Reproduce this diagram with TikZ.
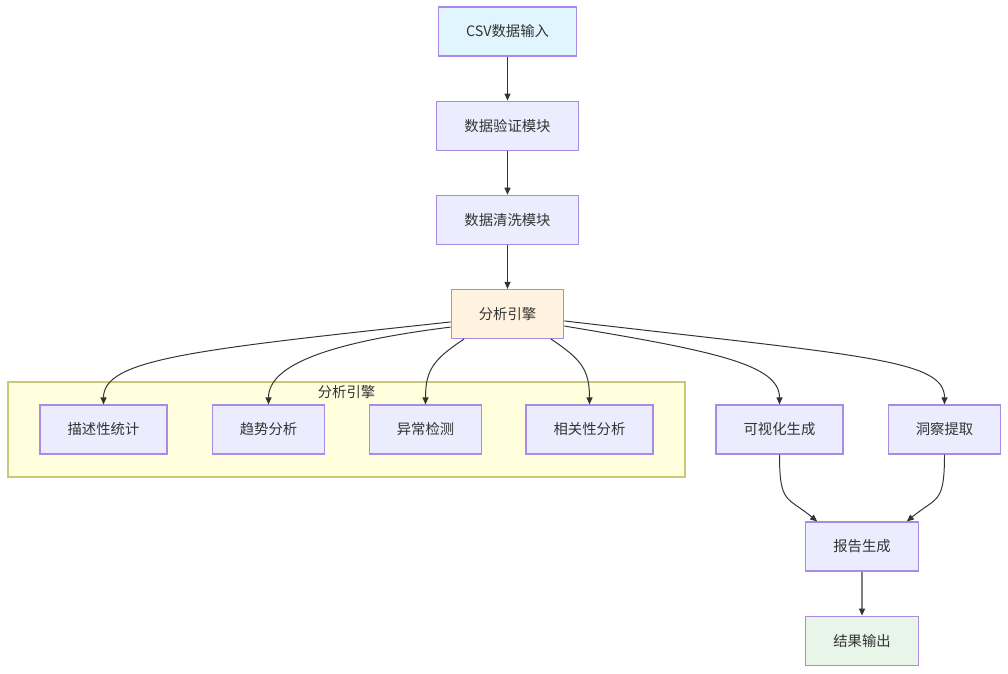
\documentclass[tikz,border=0pt]{standalone}
\usepackage{fontspec}
\setmainfont{Noto Sans CJK SC}
\usetikzlibrary{arrows, arrows.meta, positioning, calc}

\definecolor{boxfill}{HTML}{ECECFF}
\definecolor{boxline}{HTML}{A98BE6}
\definecolor{infill}{HTML}{E1F5FE}
\definecolor{engfill}{HTML}{FFF3E0}
\definecolor{outfill}{HTML}{E8F5E9}
\definecolor{subfill}{HTML}{FFFFDE}
\definecolor{subline}{HTML}{C8C878}
\definecolor{txt}{HTML}{333333}
\definecolor{edge}{HTML}{333333}

\tikzset{
  block/.style={draw=boxline, line width=0.8pt, fill=boxfill, rectangle, minimum height=1.225cm,
    inner xsep=0.69cm, inner ysep=0pt, text=txt, font=\fontsize{10.2}{12}\selectfont},
  link/.style={->, draw=edge, line width=0.7pt}
}

\begin{document}
\begin{tikzpicture}[x=0.025cm, y=-0.025cm, >={Triangle[length=1.75mm, width=1.5mm]}]
  \useasboundingbox (0,0) rectangle (1008,673);

  % Subgraph background
  \draw[fill=subfill, draw=subline, line width=0.8pt] (8,382) rectangle (685,477);
  \node[text=txt, font=\fontsize{10.2}{12}\selectfont, anchor=north, inner sep=1pt] (sublabel) at (346.5,384) {分析引擎};

  % Main chain
  \node[block, fill=infill, minimum width=3.425cm] (csv) at (507.5,31.5) {CSV数据输入};
  \node[block, below=1.1cm of csv] (valid) {数据验证模块};
  \node[block, below=1.1cm of valid] (clean) {数据清洗模块};
  \node[block, fill=engfill, below=1.1cm of clean] (eng) {分析引擎};

  % Analysis row
  \node[block] (desc) at (103.5,429.5) {描述性统计};
  \node[block] (trend) at (268.5,429.5) {趋势分析};
  \node[block] (anom) at (425.5,429.5) {异常检测};
  \node[block] (corr) at (589.5,429.5) {相关性分析};
  \node[block] (vis) at (779.5,429.5) {可视化生成};
  \node[block] (ins) at (944.5,429.5) {洞察提取};

  % Report and output
  \node[block] (rep) at (862,546.5) {报告生成};
  \node[block, fill=outfill, below=1.1cm of rep] (res) {结果输出};

  % Connections
  \draw[link] (csv) -- (valid);
  \draw[link] (valid) -- (clean);
  \draw[link] (clean) -- (eng);
  \draw[link] (eng.188) .. controls +(-260,28) and +(0,-45) .. (desc.north);
  \draw[link] (eng.193) .. controls +(-120,15) and +(0,-40) .. (trend.north);
  \draw[link] (eng.210) .. controls +(-30,20) and +(0,-35) .. (anom.north);
  \draw[link] (eng.330) .. controls +(30,20) and +(0,-35) .. (corr.north);
  \draw[link] (eng.-12) .. controls +(150,25) and +(0,-40) .. (vis.north);
  \draw[link] (eng.-7) .. controls +(300,35) and +(0,-45) .. (ins.north);
  \draw[link] (vis.south) .. controls +(0,50) and +(-30,-25) .. ([xshift=0.3cm]rep.north west);
  \draw[link] (ins.south) .. controls +(0,50) and +(30,-25) .. ([xshift=-0.3cm]rep.north east);
  \draw[draw=gray, line width=1.2pt, -{Triangle[length=1.75mm, width=1.5mm, color=edge]}] (rep) -- (res);
\end{tikzpicture}
\end{document}
